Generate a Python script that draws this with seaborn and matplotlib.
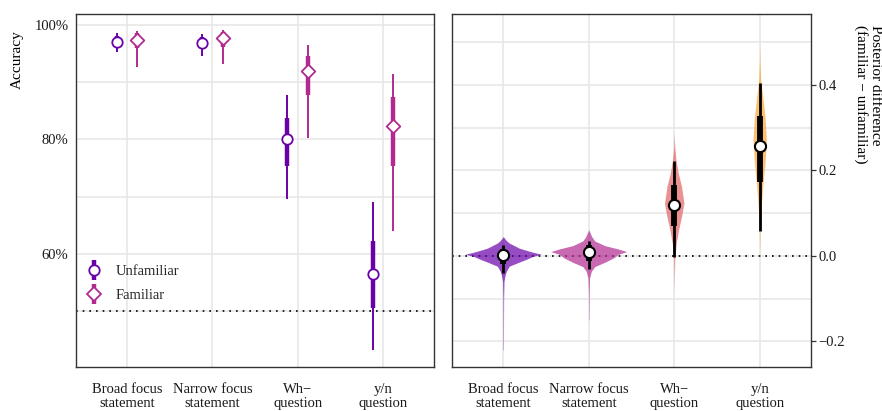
import numpy as np
import pandas as pd
import matplotlib
matplotlib.use("Agg")
import matplotlib.pyplot as plt
from matplotlib.lines import Line2D
from matplotlib.legend_handler import HandlerTuple
from matplotlib.ticker import FixedLocator, PercentFormatter, FuncFormatter
import seaborn as sns

# ---------------- data ----------------
categories = ["Broad focus\nstatement", "Narrow focus\nstatement", "Wh\u2212\nquestion", "y/n\nquestion"]
groups = ["Unfamiliar", "Familiar"]

# left panel: accuracy (%), point estimate, 66% and 95% intervals
unf_mean = [97.1, 96.9, 80.0, 56.6]
unf_lo66 = [96.5, 95.9, 75.4, 50.6]
unf_hi66 = [98.1, 97.8, 83.8, 62.3]
unf_lo95 = [95.2, 94.5, 69.6, 43.2]
unf_hi95 = [98.6, 98.4, 87.7, 69.1]

fam_mean = [97.4, 97.7, 91.9, 82.3]
fam_lo66 = [95.9, 96.2, 87.7, 75.3]
fam_hi66 = [98.6, 98.7, 94.6, 87.5]
fam_lo95 = [92.6, 93.2, 80.2, 64.1]
fam_hi95 = [99.0, 99.1, 96.5, 91.5]

chance_level = 50.0

# right panel: posterior difference (familiar - unfamiliar)
diff_mean = [0.003, 0.009, 0.119, 0.258]
diff_lo66 = [-0.018, -0.013, 0.070, 0.174]
diff_hi66 = [0.015, 0.026, 0.165, 0.327]
diff_lo95 = [-0.041, -0.031, -0.002, 0.059]
diff_hi95 = [0.026, 0.035, 0.221, 0.405]

# posterior density profiles (value grid, half-width of violin)
vio_broad_y = [-0.22, -0.15, -0.10, -0.060, -0.046, -0.036, -0.024, -0.0145, -0.0063, -0.0014, 0.004, 0.0087, 0.018, 0.030, 0.036, 0.045]
vio_broad_w = [0.002, 0.003, 0.004, 0.008, 0.02, 0.035, 0.07, 0.187, 0.29, 0.343, 0.445, 0.343, 0.187, 0.07, 0.035, 0.0]
vio_narrow_y = [-0.15, -0.088, -0.052, -0.036, -0.025, -0.015, -0.0047, 0.0036, 0.010, 0.0163, 0.024, 0.035, 0.045, 0.061]
vio_narrow_w = [0.002, 0.004, 0.009, 0.03, 0.07, 0.187, 0.29, 0.343, 0.445, 0.343, 0.187, 0.07, 0.035, 0.0]
vio_wh_y = [-0.087, -0.0405, -0.0016, 0.0296, 0.0608, 0.092, 0.1232, 0.1622, 0.1934, 0.2246, 0.2557, 0.287]
vio_wh_w = [0.0, 0.003, 0.007, 0.0234, 0.0504, 0.0855, 0.1136, 0.0855, 0.0468, 0.0200, 0.006, 0.0]
vio_yn_y = [-0.0016, 0.0686, 0.1232, 0.170, 0.2168, 0.2713, 0.3259, 0.3727, 0.4117, 0.4585, 0.50]
vio_yn_w = [0.0, 0.006, 0.0199, 0.0386, 0.062, 0.0785, 0.062, 0.0351, 0.0117, 0.003, 0.0]

y_ticks_left = [60, 80, 100]
y_ticks_right = [-0.2, 0.0, 0.2, 0.4]

# ---------------- style ----------------
sns.set_theme(style="white")
plt.rcParams["font.family"] = ["Liberation Serif", "DejaVu Serif"]
plt.rcParams["font.size"] = 10.5
plt.rcParams["axes.unicode_minus"] = True

FS = 10.5
col_unf = "#6A00A8"
col_fam = "#B12A90"
vio_cols = ["#6A00A8", "#B12A90", "#E16462", "#FCA636"]
grid_col = "#E6E6E6"
frame_col = "#333333"

fig = plt.figure(figsize=(8.82, 4.11), dpi=100)
W, H = 882, 411
axL = fig.add_axes([76 / W, 1 - 367 / H, (434 - 76) / W, (367 - 14) / H])
axR = fig.add_axes([452 / W, 1 - 367 / H, (811 - 452) / W, (367 - 14) / H])

xpos = np.arange(1, len(categories) + 1)
dodge = 0.12


def style_axes(ax, major, minor, ylim):
    ax.set_xlim(0.4, 4.6)
    ax.set_ylim(*ylim)
    ax.set_xticks(xpos)
    ax.set_xticklabels(categories, linespacing=1.1)
    ax.yaxis.set_major_locator(FixedLocator(major))
    ax.yaxis.set_minor_locator(FixedLocator(minor))
    for y in list(major) + list(minor):
        ax.axhline(y, color=grid_col, lw=1.1, zorder=0)
    for x in xpos:
        ax.axvline(x, color=grid_col, lw=1.1, zorder=0)
    for s in ax.spines.values():
        s.set_color(frame_col)
        s.set_linewidth(1.0)
    ax.tick_params(axis="both", which="major", length=3.5, width=0.9, color=frame_col,
                   labelsize=FS, labelcolor="#1a1a1a", direction="out")
    ax.tick_params(axis="y", which="minor", length=0)
    ax.tick_params(axis="x", pad=8)
    ax.tick_params(axis="y", pad=2)


# ---------------- left panel ----------------
style_axes(axL, y_ticks_left, [50, 70, 90], (40.3, 101.9))
axL.yaxis.set_major_formatter(PercentFormatter(100, decimals=0))
axL.axhline(chance_level, color="black", lw=1.2, ls=(0, (1, 3)), zorder=1)

for means, lo66, hi66, lo95, hi95, col, off, mk, ms in [
    (unf_mean, unf_lo66, unf_hi66, unf_lo95, unf_hi95, col_unf, -dodge, "o", 56),
    (fam_mean, fam_lo66, fam_hi66, fam_lo95, fam_hi95, col_fam, dodge, "D", 48),
]:
    xs = xpos + off
    axL.vlines(xs, lo95, hi95, color=col, lw=1.4, zorder=2)
    axL.vlines(xs, lo66, hi66, color=col, lw=3.2, zorder=2)
    dfp = pd.DataFrame({"x": xs, "y": means})
    sns.scatterplot(data=dfp, x="x", y="y", ax=axL, marker=mk, s=ms, color=col,
                    facecolor="white", edgecolor=col, linewidth=1.3, zorder=3, legend=False)
axL.set_xlabel("")
axL.set_ylabel("")

handles = []
for col, mk, ms in [(col_unf, "o", 7.5), (col_fam, "D", 7)]:
    h_line = Line2D([], [], color=col, lw=0, marker="|", markersize=15, markeredgewidth=3.2)
    h_pt = Line2D([], [], color=col, lw=0, marker=mk, markersize=ms, markerfacecolor="white",
                  markeredgecolor=col, markeredgewidth=1.3)
    handles.append((h_line, h_pt))
axL.legend(handles, groups, handler_map={tuple: HandlerTuple(ndivide=1)},
           loc="center left", bbox_to_anchor=(0.03, 0.2365), frameon=False,
           handlelength=0.95, handletextpad=1.05, borderpad=0, borderaxespad=0,
           labelspacing=0.7, fontsize=FS)

# ---------------- right panel ----------------
style_axes(axR, y_ticks_right, [-0.1, 0.1, 0.3, 0.5], (-0.26, 0.566))
axR.yaxis.tick_right()
axR.yaxis.set_major_formatter(FuncFormatter(lambda v, p: f"{v:.1f}".replace("-", "\u2212")))
axR.axhline(0.0, color="black", lw=1.2, ls=(0, (1, 3)), zorder=1)

profiles = [(vio_broad_y, vio_broad_w), (vio_narrow_y, vio_narrow_w),
            (vio_wh_y, vio_wh_w), (vio_yn_y, vio_yn_w)]
for i, ((vy, vw), col) in enumerate(zip(profiles, vio_cols)):
    vy = np.asarray(vy)
    vw = np.asarray(vw)
    axR.fill_betweenx(vy, xpos[i] - vw, xpos[i] + vw, color=col, alpha=0.7, lw=0, zorder=2)

axR.vlines(xpos, diff_lo95, diff_hi95, color="black", lw=2.0, zorder=3)
axR.vlines(xpos, diff_lo66, diff_hi66, color="black", lw=4.2, zorder=3)
dfr = pd.DataFrame({"x": xpos, "y": diff_mean})
sns.scatterplot(data=dfr, x="x", y="y", ax=axR, marker="o", s=64, color="black",
                facecolor="white", edgecolor="black", linewidth=1.5, zorder=4, legend=False)
axR.set_xlabel("")
axR.set_ylabel("")

# ---------------- axis titles ----------------
fig.text(24 / W, 1 - 30 / H, "Accuracy", rotation=90, rotation_mode="anchor",
         ha="right", va="bottom", fontsize=FS + 0.5, color="black")
fig.text(882 / W, 1 - 25 / H, "Posterior difference\n(familiar \u2212 unfamiliar)",
         rotation=-90, rotation_mode="anchor", ha="left", va="top",
         multialignment="left", fontsize=FS + 0.5, color="black", linespacing=1.1)

fig.savefig("out.png", dpi=100)
